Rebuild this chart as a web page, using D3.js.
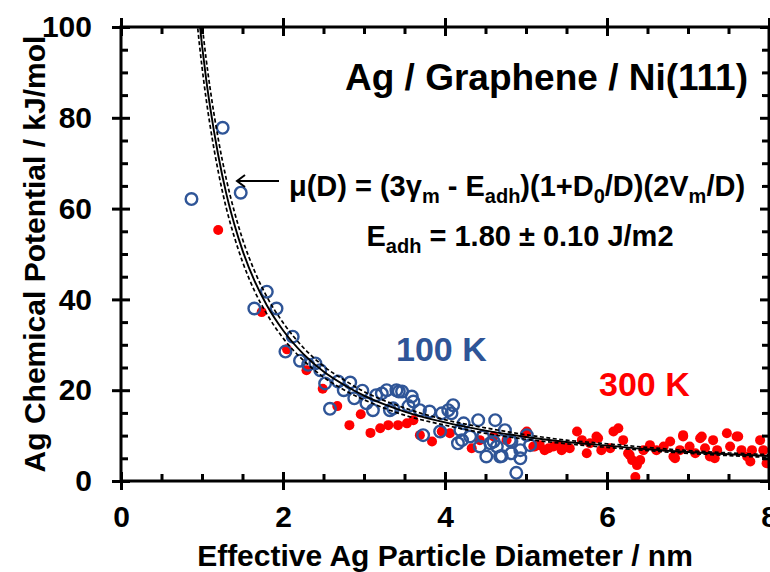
<!DOCTYPE html>
<html>
<head>
<meta charset="utf-8">
<script src="https://cdn.jsdelivr.net/npm/d3@7"></script>
<style>
  body { margin: 0; background: #fff; }
  svg { display: block; font-family: "Liberation Sans", Arial, sans-serif; font-weight: bold; }
</style>
</head>
<body>
<svg width="770" height="572"></svg>
<script>
/*
*  DATA
*/
// 100 K, open blue circles: [diameter nm, mu kJ/mol]
let data100K = [
  [0.87,62.1],[1.255,77.8],[1.478,63.5],[1.80,41.7],[1.646,38.0],[1.92,38.0],[2.12,31.8],[2.03,28.5],
  [2.21,26.5],[2.31,25.6],[2.40,25.9],[2.46,24.4],[2.52,21.5],[2.58,15.9],[2.68,21.9],[2.75,20.0],
  [2.83,21.7],[2.88,18.2],[2.98,19.9],[3.03,17.1],[3.11,15.6],[3.15,18.9],[3.22,19.3],[3.28,20.0],
  [3.32,15.6],[3.36,16.0],[3.40,20.0],[3.43,19.7],[3.47,19.7],[3.59,18.6],[3.61,17.5],[3.55,16.5],
  [3.69,15.6],[3.81,15.3],[3.96,14.9],[4.04,15.6],[4.10,16.7],[4.08,14.9],[3.73,10.1],[3.94,10.9],
  [4.19,11.2],[4.23,12.7],[4.16,8.3],[4.21,9.0],[4.31,9.8],[4.41,13.4],[4.62,13.4],[4.47,9.8],
  [4.56,8.3],[4.51,5.4],[4.68,5.4],[4.70,5.5],[4.64,7.6],[4.74,11.2],[4.80,9.0],[4.93,6.8],
  [4.88,1.8],[5.01,10.1],[5.05,7.9],[4.82,6.1],[4.43,7.6],[4.60,8.7],[4.82,8.7],[4.93,5.0]
]
// 300 K, filled red dots
let data300K = [
  [1.20,55.3],[1.737,37.2],[2.05,29.0],[2.29,24.4],[2.49,20.3],[2.67,16.5],[2.82,12.3],[2.96,14.7],
  [3.08,10.6],[3.20,11.6],[3.30,12.3],[3.42,12.3],[3.53,12.7],[3.61,13.4],[3.69,10.1],[3.84,8.7],
  [3.96,10.9],[4.06,10.5],[4.33,7.2],[4.43,9.0],[4.60,9.8],[4.76,9.0],[4.99,10.5],[5.01,10.9],
  [5.09,7.6],[5.11,7.6],[5.17,7.9],[5.23,6.8],[5.28,7.2],[5.34,7.6],[5.40,7.9],[5.44,6.8],[5.48,7.4],
  [5.54,7.2],[5.63,10.9],[5.69,9.0],[5.75,6.1],[5.79,8.3],[5.87,9.8],[5.89,9.4],[5.93,6.8],
  [6.04,7.2],[6.08,10.9],[6.14,11.6],[6.20,9.0],[6.26,6.1],[6.28,5.7],[6.31,4.6],[6.37,3.5],
  [6.35,0.9],[6.41,4.6],[6.45,6.8],[6.53,7.9],[6.61,6.8],[6.70,7.6],[6.78,8.7],[6.82,5.4],
  [6.84,5.0],[6.90,6.8],[6.94,9.8],[6.94,10.1],[7.02,7.6],[7.09,6.1],[7.15,9.4],[7.17,9.8],
  [7.21,7.2],[7.27,5.4],[7.31,9.0],[7.33,5.0],[7.36,6.8],[7.48,10.5],[7.52,7.6],[7.60,9.8],
  [7.62,9.8],[7.66,6.8],[7.73,5.4],[7.77,4.3],[7.79,6.8],[7.89,9.0],[7.93,6.8],[7.97,3.9]
]
// fitted curve and its +/- band
let fitD  = [0.9, 0.97, 1.0, 1.05, 1.1, 1.2, 1.3, 1.4, 1.5, 1.65, 1.8, 2.0, 2.25, 2.5, 2.75, 3.0, 3.5, 4.0, 4.5, 5.0, 5.5, 6.0, 6.5, 7.0, 7.5, 8.0]
let fitMu = [114, 100.9, 96.0, 88.7, 82.4, 71.8, 63.3, 56.5, 50.8, 44.0, 38.7, 33.2, 28.0, 24.1, 21.2, 18.8, 15.3, 12.9, 11.1, 9.7, 8.6, 7.8, 7.0, 6.4, 5.9, 5.5]
let fitHi = [119.7, 105.9, 100.8, 93.1, 86.5, 75.4, 66.5, 59.3, 53.3, 46.2, 40.6, 34.9, 29.4, 25.3, 22.3, 19.7, 16.1, 13.5, 11.7, 10.2, 9.0, 8.2, 7.4, 6.7, 6.2, 5.8]
let fitLo = [108.3, 95.9, 91.2, 84.3, 78.3, 68.2, 60.1, 53.7, 48.3, 41.8, 36.8, 31.5, 26.6, 22.9, 20.1, 17.9, 14.5, 12.3, 10.5, 9.2, 8.2, 7.4, 6.7, 6.1, 5.6, 5.2]

let xTicks = [0, 2, 4, 6, 8]
let yTicks = [0, 20, 40, 60, 80, 100]

/*
*  SETUP
*/
let width = 770, height = 572
let plot = {left: 121, right: 769, top: 27, bottom: 481}
let blue = '#2f5597', red = '#ff0000'

let svg = d3.select('svg')
let x = d3.scaleLinear().domain([0, 8]).range([plot.left, plot.right])
let y = d3.scaleLinear().domain([0, 100]).range([plot.bottom, plot.top])

let xMinor = d3.range(0, 8.01, 0.5).filter(v => v % 2 !== 0)
let yMinor = d3.range(0, 100.1, 5).filter(v => v % 20 !== 0)

svg.append('clipPath').attr('id', 'clip')
  .append('rect')
  .attr('x', plot.left).attr('y', plot.top)
  .attr('width', plot.right - plot.left).attr('height', plot.bottom - plot.top)

/*
*  MARKS
*/
let marks = svg.append('g').attr('clip-path', 'url(#clip)')

marks.selectAll('.dot300')
  .data(data300K)
  .enter()
  .append('circle')
  .attr('class', 'dot300')
  .attr('cx', d => x(d[0]))
  .attr('cy', d => y(d[1]))
  .attr('r', 5)
  .attr('fill', red)

marks.selectAll('.dot100')
  .data(data100K)
  .enter()
  .append('circle')
  .attr('class', 'dot100')
  .attr('cx', d => x(d[0]))
  .attr('cy', d => y(d[1]))
  .attr('r', 5.8)
  .attr('fill', 'none')
  .attr('stroke', blue)
  .attr('stroke-width', 2.4)

let line = d3.line().x(d => x(d[0])).y(d => y(d[1])).curve(d3.curveMonotoneX)

;[fitLo, fitHi].forEach(arr => {
  marks.append('path')
    .datum(fitD.map((v, i) => [v, arr[i]]))
    .attr('d', line)
    .attr('fill', 'none')
    .attr('stroke', '#000')
    .attr('stroke-width', 1.7)
    .attr('stroke-dasharray', '4,2.5')
})
marks.append('path')
  .datum(fitD.map((v, i) => [v, fitMu[i]]))
  .attr('d', line)
  .attr('fill', 'none')
  .attr('stroke', '#000')
  .attr('stroke-width', 1.9)

/*
*  AXES
*/
function styleAxis(g){
  g.select('.domain').remove()
  g.selectAll('line').attr('stroke-width', 3)
  g.selectAll('text')
    .attr('font-size', 30)
    .attr('font-weight', 'bold')
    .attr('font-family', '"Liberation Sans", Arial, sans-serif')
    .attr('fill', '#000')
}

// majors cross the frame, minors point inward
svg.append('g').attr('transform', `translate(0,${plot.bottom - 9})`)
  .call(d3.axisBottom(x).tickValues(xTicks).tickSize(18).tickPadding(16).tickFormat(d3.format('d')))
  .call(styleAxis)
svg.append('g').attr('transform', `translate(0,${plot.bottom})`)
  .call(d3.axisTop(x).tickValues(xMinor).tickSize(7).tickFormat(''))
  .call(styleAxis)
svg.append('g').attr('transform', `translate(0,${plot.top + 9})`)
  .call(d3.axisTop(x).tickValues(xTicks).tickSize(18).tickFormat(''))
  .call(styleAxis)
svg.append('g').attr('transform', `translate(0,${plot.top})`)
  .call(d3.axisBottom(x).tickValues(xMinor).tickSize(7).tickFormat(''))
  .call(styleAxis)

svg.append('g').attr('transform', `translate(${plot.left + 9},0)`)
  .call(d3.axisLeft(y).tickValues(yTicks).tickSize(18).tickPadding(20).tickFormat(d3.format('d')))
  .call(styleAxis)
svg.append('g').attr('transform', `translate(${plot.left},0)`)
  .call(d3.axisRight(y).tickValues(yMinor).tickSize(7).tickFormat(''))
  .call(styleAxis)
svg.append('g').attr('transform', `translate(${plot.right - 9},0)`)
  .call(d3.axisRight(y).tickValues(yTicks).tickSize(18).tickFormat(''))
  .call(styleAxis)
svg.append('g').attr('transform', `translate(${plot.right},0)`)
  .call(d3.axisLeft(y).tickValues(yMinor).tickSize(7).tickFormat(''))
  .call(styleAxis)

svg.append('rect')
  .attr('x', plot.left).attr('y', plot.top)
  .attr('width', plot.right - plot.left).attr('height', plot.bottom - plot.top)
  .attr('fill', 'none').attr('stroke', '#000').attr('stroke-width', 3)

/*
*  TEXT
*/
svg.append('text')
  .attr('x', (plot.left + plot.right) / 2).attr('y', 566)
  .attr('text-anchor', 'middle').attr('font-size', 30)
  .text('Effective Ag Particle Diameter / nm')

svg.append('text')
  .attr('transform', `translate(45,${(plot.top + plot.bottom) / 2}) rotate(-90)`)
  .attr('text-anchor', 'middle').attr('font-size', 30)
  .text('Ag Chemical Potential / kJ/mol')

svg.append('text')
  .attr('x', 748).attr('y', 90)
  .attr('text-anchor', 'end').attr('font-size', 37)
  .text('Ag / Graphene / Ni(111)')

// formula with subscripts
let parts = [['μ(D) = (3γ'], ['m', 1], [' - E'], ['adh', 1], [')(1+D'], ['0', 1], ['/D)(2V'], ['m', 1], ['/D)']]
function richText(t, parts){
  let prevSub = false
  parts.forEach(p => {
    let sub = !!p[1]
    let ts = t.append('tspan').text(p[0])
    if (sub) ts.attr('font-size', 20)
    if (sub !== prevSub) ts.attr('dy', sub ? 7 : -7)
    prevSub = sub
  })
}
let formula = svg.append('text')
  .attr('x', 517).attr('y', 196)
  .attr('text-anchor', 'middle').attr('font-size', 29)
richText(formula, parts)

let eadh = svg.append('text')
  .attr('x', 520).attr('y', 246)
  .attr('text-anchor', 'middle').attr('font-size', 29)
richText(eadh, [['E'], ['adh', 1], [' = 1.80 ± 0.10 J/m2']])

// arrow pointing at the fit
svg.append('path')
  .attr('d', 'M279,181 H237 M245,175 L237,181 L245,187')
  .attr('fill', 'none')
  .attr('stroke', '#000').attr('stroke-width', 2)

svg.append('text')
  .attr('x', 396).attr('y', 361).attr('font-size', 34).attr('fill', blue)
  .text('100 K')
svg.append('text')
  .attr('x', 599).attr('y', 396).attr('font-size', 34).attr('fill', red)
  .text('300 K')
</script>
</body>
</html>
